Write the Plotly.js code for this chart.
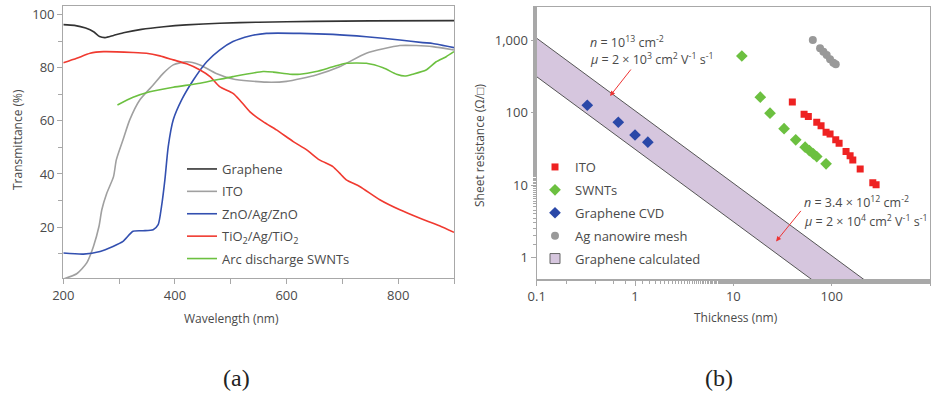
<!DOCTYPE html>
<html>
<head>
<meta charset="utf-8">
<script src="https://cdn.plot.ly/plotly-3.0.1.min.js"></script>
<style>html,body{margin:0;padding:0;background:#fff;} #chart{width:936px;height:399px;}</style>
</head>
<body>
<div id="chart"></div>
<script>
// ---------- Panel (a): transmittance vs wavelength ----------
const grapheneWl = [200,220,240,255,265,275,290,310,340,380,420,480,550,650,750,900];
const grapheneT  = [96.3,96.0,95.0,93.5,91.8,91.4,92.2,93.3,94.5,95.5,96.2,96.8,97.2,97.5,97.7,97.8];

const itoWl = [200,224,242,254,264,269,278,290,295,307,319,337,361,379,397,421,445,474,504,564,600,653,695,743,803,832,862,900];
const itoT  = [0.4,2.4,6.5,12.7,20.3,26.5,32.8,39.0,45.3,52.9,60.4,67.9,73.5,77.9,81.1,82.3,81.1,77.9,75.8,74.6,74.9,77.3,80.4,85.5,88.4,88.4,88.0,86.7];

const znoWl = [200,236,266,289,307,325,343,361,370,376,382,388,397,412,433,457,480,504,534,564,624,683,743,803,844,862,900];
const znoT  = [10.2,9.8,10.8,12.7,14.6,18.4,18.6,19.0,20.9,27.8,37.8,50.3,60.4,67.9,75.4,82.3,86.7,89.9,92.0,93.0,93.0,92.6,91.7,90.5,89.5,89.2,87.6];

const tioWl = [200,224,248,272,325,349,373,397,421,445,463,480,504,516,534,558,582,612,636,659,683,695,707,731,767,803,838,874,900];
const tioT  = [81.9,83.6,85.5,86.1,85.8,85.5,84.5,83.0,81.5,79.2,76.7,72.9,70.4,67.9,63.5,59.7,56.6,52.2,49.1,45.3,42.8,40.3,37.8,35.3,30.3,26.5,23.4,20.5,18.0];

const swntWl = [297,325,355,397,445,504,558,576,606,624,653,683,707,743,773,797,812,826,850,868,886,900];
const swntT  = [66.0,68.9,71.0,72.7,74.2,76.7,78.6,78.4,77.6,77.6,78.6,80.4,81.7,81.7,80.0,77.6,76.9,77.6,79.2,82.3,84.2,86.1];

// ---------- Panel (b): sheet resistance vs thickness ----------
const itoThick = [39.8,52.4,57.9,70.5,78,87.7,96.3,110,119,140,154,164,195,262,283];
const itoRs    = [140,94.8,88,73.5,66,53.6,50.7,42,37.8,29,25.3,22.2,16.6,10.8,10.1];

const swntThick = [12.2,18.8,23.6,32.8,43.1,53.7,59.3,65.2,70.5,87.7];
const swntRs    = [603,163,98,60,42,33.3,29.9,26.9,24.7,19.6];

const cvdThick = [0.327,0.676,1.0,1.35];
const cvdRs    = [126,73.5,49,39];

const agThick = [64.3,76.2,82.4,89,96.3,104,110];
const agRs    = [1000,769,690,621,542,487,462];

// band edges for "Graphene calculated" (end points)
const bandThick = [0.1, 1000];
const bandUpper = [1060, 0.106];
const bandLower = [312, 0.0312];

const FONT = '"Open Sans", sans-serif';
const TXT = '#4a4a4a';
const AX = '#a8a8a8';
const BAND = '#d6c6de';

function lineTrace(x, y, name, color, group) {
  return {x, y, name, type:'scatter', mode:'lines', line:{color, width:1.6, shape:'spline', smoothing:0.6},
    xaxis:'x', yaxis:'y', legend:'legend', legendgroup:group};
}

const traces = [
  lineTrace(grapheneWl, grapheneT, 'Graphene', '#333333', 'a1'),
  lineTrace(itoWl, itoT, 'ITO', '#a0a0a0', 'a2'),
  lineTrace(znoWl, znoT, 'ZnO/Ag/ZnO', '#3350b0', 'a3'),
  lineTrace(tioWl, tioT, 'TiO<sub>2</sub>/Ag/TiO<sub>2</sub>', '#f03a30', 'a4'),
  lineTrace(swntWl, swntT, 'Arc discharge SWNTs', '#6cc040', 'a5'),
  // band polygon
  {x: bandThick.concat(bandThick.slice().reverse()),
   y: bandUpper.concat(bandLower.slice().reverse()),
   name:'Graphene calculated', type:'scatter', mode:'lines', fill:'toself',
   fillcolor:BAND, line:{color:'#555555', width:1}, xaxis:'x2', yaxis:'y2',
   showlegend:false, legendgroup:'b5'},
  {x: itoThick, y: itoRs, name:'ITO', type:'scatter', mode:'markers',
   marker:{symbol:'square', size:7, color:'#ee2222'}, xaxis:'x2', yaxis:'y2', legend:'legend2', legendgroup:'b1', legendrank:1},
  {x: swntThick, y: swntRs, name:'SWNTs', type:'scatter', mode:'markers',
   marker:{symbol:'diamond', size:9, color:'#6cc040'}, xaxis:'x2', yaxis:'y2', legend:'legend2', legendgroup:'b2', legendrank:2},
  {x: cvdThick, y: cvdRs, name:'Graphene CVD', type:'scatter', mode:'markers',
   marker:{symbol:'diamond', size:9, color:'#2a48a8'}, xaxis:'x2', yaxis:'y2', legend:'legend2', legendgroup:'b3', legendrank:3},
  {x: agThick, y: agRs, name:'Ag nanowire mesh', type:'scatter', mode:'markers',
   marker:{symbol:'circle', size:8, color:'#999999'}, xaxis:'x2', yaxis:'y2', legend:'legend2', legendgroup:'b4', legendrank:4},
  // legend entry for the band (filled square symbol)
  {x:[null], y:[null], name:'Graphene calculated', type:'scatter', mode:'markers',
   marker:{symbol:'square', size:10, color:BAND, line:{color:'#666666', width:1}},
   xaxis:'x2', yaxis:'y2', legend:'legend2', legendgroup:'b5', legendrank:5}
];

const W = 936, H = 399;
const px = v => v / W;
const py = v => 1 - v / H;

const axCommon = {showgrid:false, zeroline:false, showline:true, linecolor:AX, linewidth:1.2, mirror:true,
  ticks:'outside', tickcolor:AX, ticklen:5, tickfont:{family:FONT, size:13, color:TXT}};

function label(text, x, y, opts) {
  return Object.assign({text, xref:'paper', yref:'paper', x:px(x), y:py(y), xanchor:'center', yanchor:'middle',
    showarrow:false, font:{family:FONT, size:12, color:TXT}}, opts || {});
}

const layout = {
  width:W, height:H, margin:{l:0, r:0, t:0, b:0}, paper_bgcolor:'#fff', plot_bgcolor:'#fff',
  font:{family:FONT, color:TXT, size:12},
  xaxis: Object.assign({}, axCommon, {domain:[px(63.3), px(454)], range:[200, 900], tickvals:[200,400,600,800],
    minor:{dtick:100, ticks:'outside', ticklen:5, tickcolor:AX}, anchor:'y'}),
  yaxis: Object.assign({}, axCommon, {domain:[py(278), py(6)], range:[0.8, 103.3], tickvals:[20,40,60,80,100],
    minor:{dtick:10, ticks:'outside', ticklen:4, tickcolor:AX}, anchor:'x'}),
  xaxis2: Object.assign({}, axCommon, {type:'log', domain:[px(536.7), px(930)], range:[-1, 3],
    tickvals:[0.1,1,10,100,1000], ticktext:['0.1','1','10','100','1,000'],
    minor:{ticks:'outside', ticklen:3, tickcolor:AX}, anchor:'y2'}),
  yaxis2: Object.assign({}, axCommon, {type:'log', domain:[py(279.3), py(6.7)], range:[-0.3, 3.46],
    tickvals:[1,10,100,1000], ticktext:['1','10','100','1,000'],
    minor:{ticks:'outside', ticklen:3, tickcolor:AX}, anchor:'x2'}),
  showlegend:true,
  legend:{x:px(182), y:py(154), xanchor:'left', yanchor:'top', bgcolor:'rgba(0,0,0,0)',
    font:{family:FONT, size:13, color:TXT}, tracegroupgap:2.5, traceorder:'grouped'},
  legend2:{x:px(535), y:py(152), xanchor:'left', yanchor:'top', bgcolor:'rgba(0,0,0,0)',
    font:{family:FONT, size:13, color:TXT}, tracegroupgap:3, traceorder:'grouped', itemwidth:30},
  annotations:[
    label('Transmittance (%)', 17, 140, {textangle:-90}),
    label('Wavelength (nm)', 231, 318),
    label('Sheet resistance (Ω/□)', 480, 145, {textangle:-90}),
    label('Thickness (nm)', 736, 317),
    label('<i>n</i> = 10<sup>13</sup> cm<sup>-2</sup>', 588, 42, {xanchor:'left', font:{family:FONT, size:12.5, color:TXT}}),
    label('<i>μ</i> = 2 × 10<sup>3</sup> cm<sup>2</sup> V<sup>-1</sup> s<sup>-1</sup>', 588, 59, {xanchor:'left', font:{family:FONT, size:12.5, color:TXT}}),
    label('<i>n</i> = 3.4 × 10<sup>12</sup> cm<sup>-2</sup>', 802, 202, {xanchor:'left', font:{family:FONT, size:12.5, color:TXT}}),
    label('<i>μ</i> = 2 × 10<sup>4</sup> cm<sup>2</sup> V<sup>-1</sup> s<sup>-1</sup>', 802, 221, {xanchor:'left', font:{family:FONT, size:12.5, color:TXT}}),
    {text:'', xref:'x2', yref:'y2', x:Math.log10(0.557), y:Math.log10(169), ax:22, ay:-28, showarrow:true,
      arrowcolor:'#ee3333', arrowwidth:1, arrowhead:2, arrowsize:1},
    {text:'', xref:'x2', yref:'y2', x:Math.log10(27.2), y:Math.log10(1.67), ax:26, ay:-32, showarrow:true,
      arrowcolor:'#ee3333', arrowwidth:1, arrowhead:2, arrowsize:1},
    label('(a)', 236, 378, {font:{family:'"Liberation Serif", serif', size:24, color:'#222'}}),
    label('(b)', 719, 378, {font:{family:'"Liberation Serif", serif', size:24, color:'#222'}})
  ]
};

Plotly.newPlot('chart', traces, layout, {displayModeBar:false, staticPlot:true});
</script>
</body>
</html>
